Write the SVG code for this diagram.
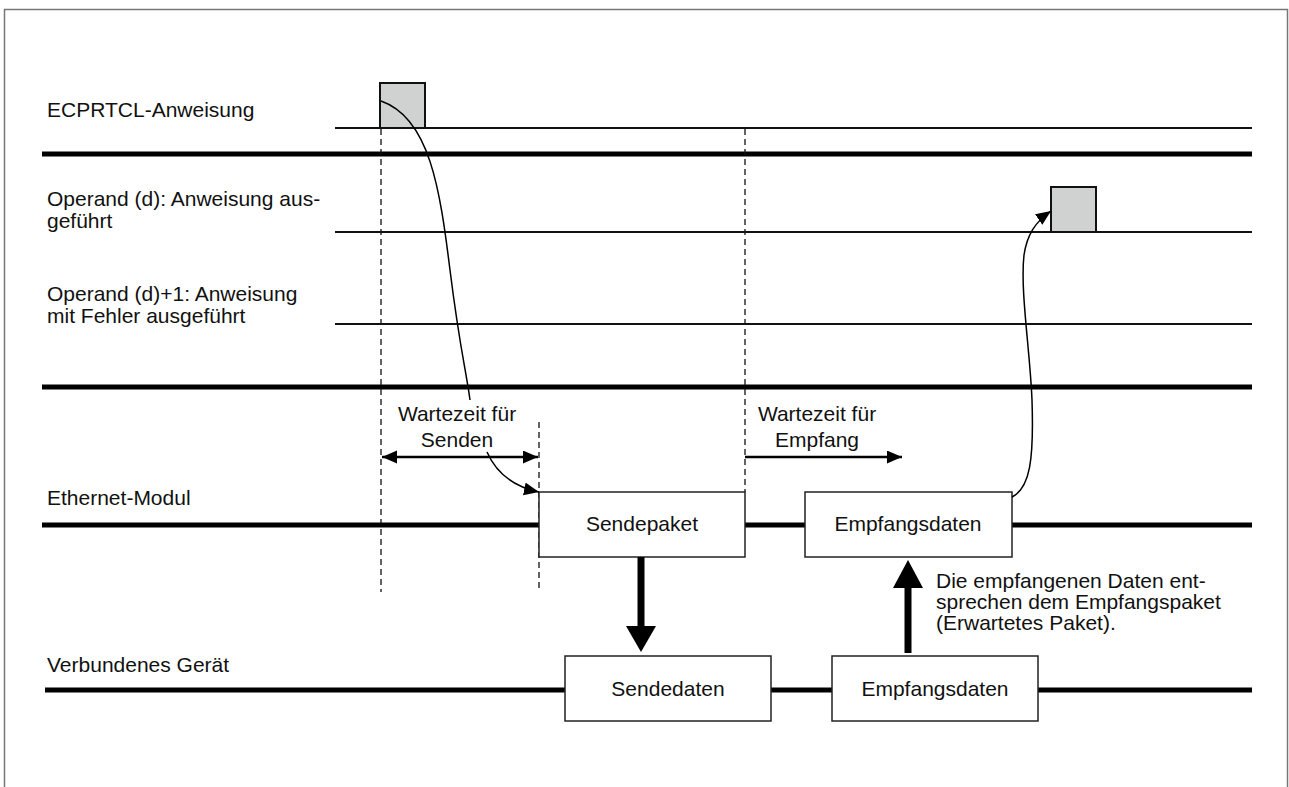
<svg xmlns="http://www.w3.org/2000/svg" width="1289" height="787" viewBox="0 0 1289 787">
<defs>
<style>
text{font-family:"Liberation Sans",Arial,sans-serif;font-size:21px;fill:#111}
.c{text-anchor:middle}
.sig{fill:none;stroke:#111;stroke-width:2}
.pulse{fill:#d0d2d2;stroke:#111;stroke-width:2}
.bus{stroke:#000;stroke-width:5}
.dash{stroke:#111;stroke-width:1.3;stroke-dasharray:6 4;fill:none}
.box{fill:#fff;stroke:#222;stroke-width:1.5}
.conn{fill:none;stroke:#000;stroke-width:1.5}
.dim{fill:none;stroke:#000;stroke-width:2.5}
</style>
<marker id="ah" markerUnits="userSpaceOnUse" markerWidth="16" markerHeight="14" refX="15" refY="6.5" orient="auto-start-reverse" viewBox="0 0 16 14">
<path d="M0,0 L15,6.5 L0,13 z" fill="#000"/>
</marker>
</defs>
<rect x="4.5" y="9.5" width="1283" height="800" fill="none" stroke="#777" stroke-width="1.5"/>

<g id="bus-lines">
<line class="bus" x1="42" y1="154" x2="1252" y2="154"/>
<line class="bus" x1="42" y1="387" x2="1252" y2="387"/>
</g>

<g id="sig-ecprtcl">
<text x="47" y="117">ECPRTCL-Anweisung</text>
<rect class="pulse" x="380" y="83" width="45" height="45" stroke="none"/>
<path class="sig" d="M335,128 H380 V83 H425 V128 H1252"/>
</g>

<g id="sig-operand-d">
<text x="47" y="206">Operand (d): Anweisung aus-</text>
<text x="47" y="228">geführt</text>
<rect class="pulse" x="1051" y="187" width="45" height="45" stroke="none"/>
<path class="sig" d="M335,232 H1051 V187 H1096 V232 H1252"/>
</g>

<g id="sig-operand-d1">
<text x="47" y="301">Operand (d)+1: Anweisung</text>
<text x="47" y="323">mit Fehler ausgeführt</text>
<line class="sig" x1="335" y1="324" x2="1252" y2="324"/>
</g>

<g id="guides">
<line class="dash" x1="381" y1="129" x2="381" y2="592"/>
<line class="dash" x1="539" y1="422" x2="539" y2="592"/>
<line class="dash" x1="745" y1="129" x2="745" y2="492"/>
</g>

<g id="ethernet-modul">
<text x="47" y="505">Ethernet-Modul</text>
<line class="bus" x1="42" y1="525" x2="1252" y2="525"/>
</g>

<g id="verbundenes-geraet">
<text x="47" y="672">Verbundenes Gerät</text>
<line class="bus" x1="45" y1="690" x2="1252" y2="690"/>
</g>

<g id="node-sendepaket">
<rect class="box" x="539" y="492" width="206" height="65"/>
<text class="c" x="642" y="531">Sendepaket</text>
</g>
<g id="node-empfangsdaten-eth">
<rect class="box" x="805" y="492" width="207" height="65"/>
<text class="c" x="908" y="531">Empfangsdaten</text>
</g>
<g id="node-sendedaten">
<rect class="box" x="565" y="656" width="206" height="65"/>
<text class="c" x="668" y="696">Sendedaten</text>
</g>
<g id="node-empfangsdaten-dev">
<rect class="box" x="832" y="656" width="206" height="65"/>
<text class="c" x="935" y="696">Empfangsdaten</text>
</g>

<g id="labels">
<text class="c" x="457" y="421">Wartezeit für</text>
<text class="c" x="457" y="447">Senden</text>
<text class="c" x="817" y="421">Wartezeit für</text>
<text class="c" x="817" y="447">Empfang</text>
<text x="936" y="588">Die empfangenen Daten ent-</text>
<text x="936" y="609">sprechen dem Empfangspaket</text>
<text x="936" y="630">(Erwartetes Paket).</text>
</g>

<g id="connectors">
<path class="conn" d="M381,101 C430,118 440,190 450,270 S466,370 470,400"/>
<path class="conn" d="M487,452 C495,470 510,486 539,492" marker-end="url(#ah)"/>
<path class="conn" d="M1012,497 C1030,488 1034,460 1032,400 C1030,350 1020,290 1024,255 C1027,235 1035,222 1051,211" marker-end="url(#ah)"/>
<line class="dim" x1="382" y1="457" x2="538" y2="457" marker-start="url(#ah)" marker-end="url(#ah)"/>
<line class="dim" x1="745" y1="457" x2="902" y2="457" marker-end="url(#ah)"/>
<line x1="641" y1="557" x2="641" y2="628" stroke="#000" stroke-width="7"/>
<polygon points="626,626 656,626 641,652" fill="#000"/>
<line x1="908" y1="653" x2="908" y2="586" stroke="#000" stroke-width="7"/>
<polygon points="893,588 923,588 908,560" fill="#000"/>
</g>
</svg>
